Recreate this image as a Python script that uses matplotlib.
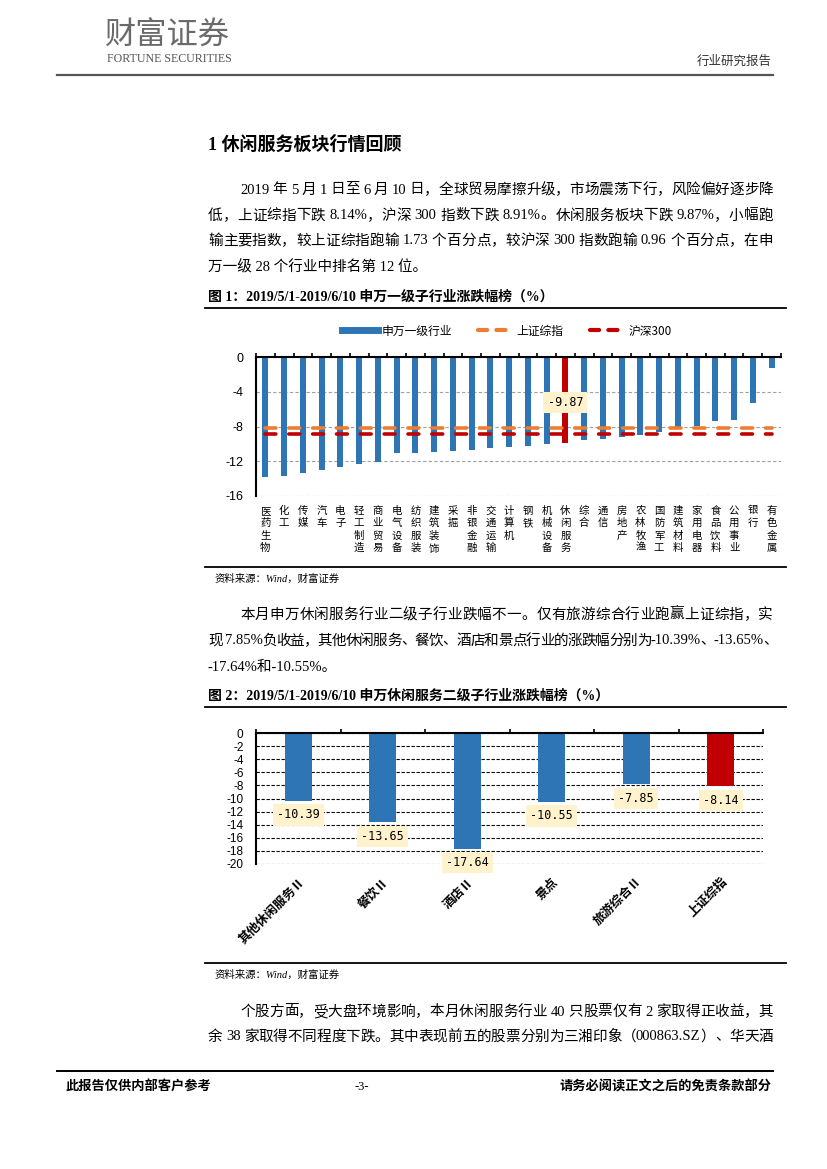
import re
import matplotlib
matplotlib.use('Agg')
import matplotlib.pyplot as plt
from matplotlib.lines import Line2D

plt.rcParams['font.family'] = ['Liberation Serif', 'Noto Sans CJK SC']
plt.rcParams['axes.unicode_minus'] = False

W, H = 827, 1169

# ---- chart 1: SW level-1 industries, 2019/5/1-2019/6/10 (%)
industries = ['医药生物', '化工', '传媒', '汽车', '电子', '轻工制造', '商业贸易',
              '电气设备', '纺织服装', '建筑装饰', '采掘', '非银金融', '交通运输',
              '计算机', '钢铁', '机械设备', '休闲服务', '综合', '通信', '房地产',
              '农林牧渔', '国防军工', '建筑材料', '家用电器', '食品饮料', '公用事业',
              '银行', '有色金属']
changes = [-13.8, -13.7, -13.3, -13.0, -12.7, -12.3, -12.1,
           -11.1, -11.1, -10.95, -10.8, -10.65, -10.45,
           -10.4, -10.3, -10.0, -9.87, -9.55, -9.4, -9.2,
           -8.95, -8.65, -8.05, -7.9, -7.35, -7.3,
           -5.25, -1.3]
highlight = '休闲服务'
sh_index = -8.14
hs300 = -8.91

# ---- chart 2: SW leisure services sub-industries (%)
sub_names = ['其他休闲服务Ⅱ', '餐饮Ⅱ', '酒店Ⅱ', '景点', '旅游综合Ⅱ', '上证综指']
sub_changes = [-10.39, -13.65, -17.64, -10.55, -7.85, -8.14]

BLUE = '#2E75B6'
RED = '#C00000'
ORANGE = '#ED7D31'
TAG = '#FFF2CC'

fig = plt.figure(figsize=(W / 100, H / 100), dpi=100)
renderer = fig.canvas.get_renderer()


def fx(x):
    return x / W


def fy(y):
    return 1 - y / H


def hline(y, x0, x1, lw=1.2, color='black'):
    fig.add_artist(Line2D([fx(x0), fx(x1)], [fy(y), fy(y)], color=color, lw=lw,
                          transform=fig.transFigure))


def text(x, y, s, **kw):
    kw.setdefault('va', 'center')
    return fig.text(fx(x), fy(y), s, **kw)


TOK = re.compile(r'[A-Za-z0-9.%\-/]+| |.')


# one line of body text; spread to x1 when given (justified like in Word)
def body_line(s, x0, y, x1=None, size=10.5):
    if x1 is None:
        text(x0, y, s, fontsize=size)
        return
    toks = TOK.findall(s)
    arts, widths = [], []
    for t in toks:
        if t == ' ':
            arts.append(None)
            widths.append(size * 0.25 * 100 / 72)
            continue
        a = text(0, y, t, fontsize=size)
        widths.append(a.get_window_extent(renderer).width)
        arts.append(a)
    gap = (x1 - x0 - sum(widths)) / (len(toks) - 1)
    x = x0
    for a, w in zip(arts, widths):
        if a is not None:
            a.set_x(fx(x))
        x += w + gap


# ---- page header
text(105, 36, '财富证券', fontsize=22.5, color='#6a6a6a', family=['Noto Sans CJK SC'])
text(107, 59, 'FORTUNE SECURITIES', fontsize=8.6, color='#555555')
text(772, 62, '行业研究报告', fontsize=9, ha='right', color='#333333')
hline(75, 57, 773, lw=1.6, color='#555555')

text(208, 145, '1 休闲服务板块行情回顾', fontsize=13, weight='bold')

body_line('2019 年 5 月 1 日至 6 月 10 日，全球贸易摩擦升级，市场震荡下行，风险偏好逐步降', 240, 190, 773)
body_line('低，上证综指下跌 8.14%，沪深 300 指数下跌 8.91%。休闲服务板块下跌 9.87%，小幅跑', 208, 216, 773)
body_line('输主要指数，较上证综指跑输 1.73 个百分点，较沪深 300 指数跑输 0.96 个百分点，在申', 208, 241, 773)
body_line('万一级 28 个行业中排名第 12 位。', 208, 267)

text(208, 297, '图 1：2019/5/1-2019/6/10 申万一级子行业涨跌幅榜（%）', fontsize=10, weight='bold')
hline(308, 205, 786, lw=1.3)

# ---- chart 1
ax1 = fig.add_axes([fx(256), fy(496), (781 - 256) / W, (496 - 357) / H])
x1 = list(range(len(industries)))
c1 = [RED if n == highlight else BLUE for n in industries]
ax1.bar(x1, changes, width=0.33, color=c1, zorder=2)
ax1.plot(x1, [sh_index] * len(x1), color=ORANGE, lw=2.6, dashes=(3.0, 3.6),
         dash_capstyle='round', zorder=3)
ax1.plot(x1, [hs300] * len(x1), color=RED, lw=2.6, dashes=(3.0, 3.6),
         dash_capstyle='round', zorder=3)
hi = industries.index(highlight)
ax1.annotate(f'{changes[hi]:.2f}', xy=(hi, changes[hi]), xytext=(0, 29),
             textcoords='offset points', ha='center', va='center',
             family='DejaVu Sans Mono', fontsize=8.5, zorder=5,
             bbox=dict(boxstyle='square,pad=0.35', fc=TAG, ec='none'))
ax1.set_xlim(-0.5, len(x1) - 0.5)
ax1.set_ylim(-16, 0)
ax1.set_yticks([0, -4, -8, -12, -16])
ax1.grid(axis='y', ls=(0, (3, 2)), color='#A0A0A0', lw=0.8, zorder=0)
ax1.set_xticks(x1)
ax1.set_xticklabels(['\n'.join(n) for n in industries], fontsize=7.5, linespacing=1.3,
                    va='top', family=['Noto Sans CJK SC'])
ax1.set_xticks([i - 0.5 for i in range(len(x1) + 1)], minor=True)
ax1.tick_params(axis='x', which='major', length=0, pad=7)
ax1.tick_params(axis='x', which='minor', bottom=False, top=True, direction='out',
                length=3, width=1.2)
ax1.tick_params(axis='y', length=0, pad=9, labelsize=9, labelfontfamily='Liberation Sans')
for s in ['right', 'bottom']:
    ax1.spines[s].set_visible(False)
for s in ['top', 'left']:
    ax1.spines[s].set_linewidth(1.5)

legend_handles = [Line2D([], [], color=BLUE, lw=5),
                  Line2D([], [], color=ORANGE, lw=3, dashes=(2.2, 2.2), dash_capstyle='round'),
                  Line2D([], [], color=RED, lw=3, dashes=(2.2, 2.2), dash_capstyle='round')]
fig.legend(legend_handles, ['申万一级行业', '上证综指', '沪深300'], loc='center',
           bbox_to_anchor=(fx(507), fy(331)), ncol=3, frameon=False,
           handlelength=3, columnspacing=2.2, handletextpad=0.3,
           prop=dict(family=['Noto Sans CJK SC'], size=8.5))

hline(567, 205, 786, lw=1.3)
text(215, 579, '资料来源：Wind，财富证券', fontsize=7.5, style='italic')

body_line('本月申万休闲服务行业二级子行业跌幅不一。仅有旅游综合行业跑赢上证综指，实', 240, 615, 773)
body_line('现 7.85%负收益，其他休闲服务、餐饮、酒店和景点行业的涨跌幅分别为-10.39%、-13.65%、', 208, 641, 778)
body_line('-17.64%和-10.55%。', 208, 667)

text(208, 696, '图 2：2019/5/1-2019/6/10 申万休闲服务二级子行业涨跌幅榜（%）', fontsize=10, weight='bold')
hline(707, 205, 786, lw=1.3)

# ---- chart 2
ax2 = fig.add_axes([fx(256), fy(864), (763 - 256) / W, (864 - 733) / H])
x2 = list(range(len(sub_names)))
c2 = [RED if n == '上证综指' else BLUE for n in sub_names]
ax2.bar(x2, sub_changes, width=0.32, color=c2, zorder=2)
for i, v in enumerate(sub_changes):
    ax2.annotate(f'{v:.2f}', xy=(i, v), xytext=(0, -10), textcoords='offset points',
                 ha='center', va='center', family='DejaVu Sans Mono', fontsize=8.5,
                 zorder=5, bbox=dict(boxstyle='square,pad=0.35', fc=TAG, ec='none'))
ax2.set_xlim(-0.5, len(x2) - 0.5)
ax2.set_ylim(-20, 0)
ax2.set_yticks(list(range(0, -21, -2)))
ax2.grid(axis='y', ls=(0, (3, 1.5)), color='black', lw=0.8, zorder=0)
ax2.set_xticks(x2)
ax2.set_xticklabels(sub_names, rotation=45, ha='right', va='top', rotation_mode='anchor',
                    fontsize=9, weight='bold', family=['Noto Sans CJK SC'])
ax2.set_xticks([i - 0.5 for i in range(len(x2) + 1)], minor=True)
ax2.tick_params(axis='x', which='major', length=0, pad=8)
ax2.tick_params(axis='x', which='minor', bottom=False, top=True, direction='out',
                length=3, width=1.2)
ax2.tick_params(axis='y', length=0, pad=9, labelsize=8.5, labelfontfamily='Liberation Sans')
for s in ['right', 'bottom']:
    ax2.spines[s].set_visible(False)
for s in ['top', 'left']:
    ax2.spines[s].set_linewidth(1.5)

hline(963, 205, 786, lw=1.3)
text(215, 975, '资料来源：Wind，财富证券', fontsize=7.5, style='italic')

body_line('个股方面，受大盘环境影响，本月休闲服务行业 40 只股票仅有 2 家取得正收益，其', 240, 1012, 773)
body_line('余 38 家取得不同程度下跌。其中表现前五的股票分别为三湘印象（000863.SZ）、华天酒', 208, 1037, 773)

# ---- footer
hline(1071, 57, 773, lw=1.4)
text(65, 1087, '此报告仅供内部客户参考', fontsize=9.5, weight='bold')
text(362, 1087, '-3-', fontsize=9, ha='center')
text(772, 1087, '请务必阅读正文之后的免责条款部分', fontsize=9.5, weight='bold', ha='right')

fig.savefig('out.png', dpi=100)
